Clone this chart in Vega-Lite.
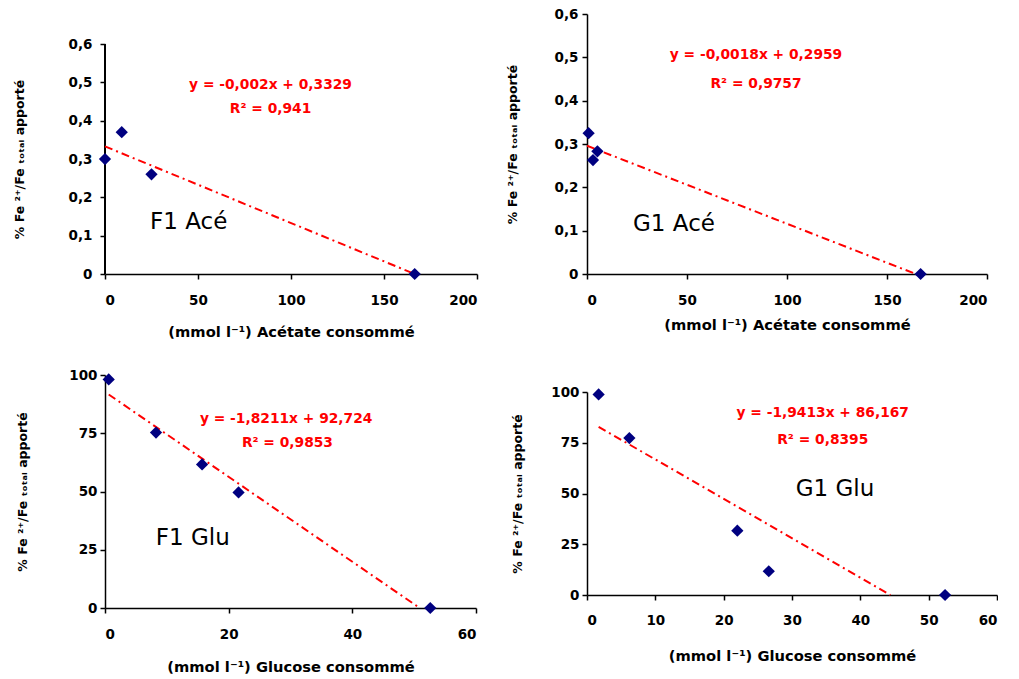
{
  "$schema": "https://vega.github.io/schema/vega-lite/v6.json",
  "padding": {"left": 13, "top": 7, "right": 0, "bottom": 0},
  "background": "white",
  "config": {
    "view": {"stroke": null},
    "font": "DejaVu Sans",
    "axis": {
      "grid": false,
      "domainColor": "black",
      "domainWidth": 1.5,
      "tickColor": "black",
      "tickWidth": 1.5,
      "tickSize": 5,
      "labelFont": "DejaVu Sans",
      "labelFontWeight": "bold",
      "labelFontSize": 13.5,
      "labelColor": "black",
      "titleFont": "DejaVu Sans",
      "titleFontWeight": "bold",
      "titleFontSize": 14.7,
      "titleColor": "black",
      "labelExpr": "replace(format(datum.value, '~g'), '.', ',')"
    }
  },
  "hconcat": [
    {
      "spacing": 28,
      "vconcat": [
        {
          "width": 372,
          "height": 260,
          "data": {"values": [
            {"kind": "pt", "x": 0, "y": 0.30},
            {"kind": "pt", "x": 9, "y": 0.37},
            {"kind": "pt", "x": 25, "y": 0.26},
            {"kind": "pt", "x": 166.5, "y": 0},
            {"kind": "fit", "x": 0, "y": 0.3329},
            {"kind": "fit", "x": 166.5, "y": 0},
            {"kind": "eq", "x": 89, "y": 0.492, "label": "y = -0,002x + 0,3329"},
            {"kind": "eq", "x": 89, "y": 0.43, "label": "R² = 0,941"},
            {"kind": "name", "x": 45, "y": 0.136, "label": "F1 Acé"}
          ]},
          "encoding": {
            "x": {"field": "x", "type": "quantitative", "scale": {"domain": [0, 200]},
              "axis": {"values": [0, 50, 100, 150, 200], "labelPadding": 14, "titlePadding": 18, "title": "(mmol l⁻¹) Acétate consommé"}},
            "y": {"field": "y", "type": "quantitative", "scale": {"domain": [0, 0.6783]},
              "axis": {"values": [0, 0.1, 0.2, 0.3, 0.4, 0.5, 0.6], "domain": false, "labelPadding": 8, "titlePadding": 42, "titleY": 145, "title": "% Fe ²⁺/Fe ₜₒₜₐₗ apporté", "titleFontSize": 12.5}}
          },
          "layer": [
            {"mark": {"type": "rule", "color": "black", "strokeWidth": 1.5},
              "encoding": {"x": {"datum": 0, "type": "quantitative"}, "y": {"datum": 0, "type": "quantitative"}, "y2": {"datum": 0.6}}},
            {"transform": [{"filter": "datum.kind == 'fit'"}], "mark": {"type": "line", "color": "#ff0000", "strokeWidth": 2, "strokeDash": [8, 4, 2, 4]}},
            {"transform": [{"filter": "datum.kind == 'pt'"}], "mark": {"type": "point", "shape": "diamond", "filled": true, "color": "#000080", "size": 150, "opacity": 1}},
            {"transform": [{"filter": "datum.kind == 'eq'"}], "mark": {"type": "text", "color": "#ff0000", "fontWeight": "bold", "fontSize": 13.8, "font": "DejaVu Sans"}, "encoding": {"text": {"field": "label"}}},
            {"transform": [{"filter": "datum.kind == 'name'"}], "mark": {"type": "text", "color": "black", "fontSize": 23, "font": "DejaVu Sans"}, "encoding": {"text": {"field": "label"}}}
          ]
        },
        {
          "width": 371,
          "height": 233,
          "data": {"values": [
            {"kind": "pt", "x": 0.6, "y": 98.1},
            {"kind": "pt", "x": 8.25, "y": 75.3},
            {"kind": "pt", "x": 15.7, "y": 61.6},
            {"kind": "pt", "x": 21.6, "y": 49.6},
            {"kind": "pt", "x": 52.6, "y": 0},
            {"kind": "fit", "x": 0.6, "y": 91.63},
            {"kind": "fit", "x": 50.9, "y": 0},
            {"kind": "eq", "x": 29.3, "y": 81.0, "label": "y = -1,8211x + 92,724"},
            {"kind": "eq", "x": 29.5, "y": 70.7, "label": "R² = 0,9853"},
            {"kind": "name", "x": 14.2, "y": 30, "label": "F1 Glu"}
          ]},
          "encoding": {
            "x": {"field": "x", "type": "quantitative", "scale": {"domain": [0, 60]},
              "axis": {"values": [0, 20, 40, 60], "labelPadding": 14, "titlePadding": 19, "title": "(mmol l⁻¹) Glucose consommé"}},
            "y": {"field": "y", "type": "quantitative", "scale": {"domain": [0, 100]},
              "axis": {"values": [0, 25, 50, 75, 100], "labelPadding": 3, "titlePadding": 39, "title": "% Fe ²⁺/Fe ₜₒₜₐₗ apporté", "titleFontSize": 12.5}}
          },
          "layer": [
            {"transform": [{"filter": "datum.kind == 'fit'"}], "mark": {"type": "line", "color": "#ff0000", "strokeWidth": 2, "strokeDash": [8, 4, 2, 4]}},
            {"transform": [{"filter": "datum.kind == 'pt'"}], "mark": {"type": "point", "shape": "diamond", "filled": true, "color": "#000080", "size": 150, "opacity": 1}},
            {"transform": [{"filter": "datum.kind == 'eq'"}], "mark": {"type": "text", "color": "#ff0000", "fontWeight": "bold", "fontSize": 13.8, "font": "DejaVu Sans"}, "encoding": {"text": {"field": "label"}}},
            {"transform": [{"filter": "datum.kind == 'name'"}], "mark": {"type": "text", "color": "black", "fontSize": 23, "font": "DejaVu Sans"}, "encoding": {"text": {"field": "label"}}}
          ]
        }
      ]
    },
    {
      "spacing": 52,
      "vconcat": [
        {
          "width": 400,
          "height": 260,
          "data": {"values": [
            {"kind": "pt", "x": 0.8, "y": 0.325},
            {"kind": "pt", "x": 3, "y": 0.263},
            {"kind": "pt", "x": 5.2, "y": 0.283},
            {"kind": "pt", "x": 166.8, "y": 0},
            {"kind": "fit", "x": 0, "y": 0.2959},
            {"kind": "fit", "x": 164.4, "y": 0},
            {"kind": "eq", "x": 84.5, "y": 0.505, "label": "y = -0,0018x + 0,2959"},
            {"kind": "eq", "x": 84.5, "y": 0.438, "label": "R² = 0,9757"},
            {"kind": "name", "x": 43.5, "y": 0.115, "label": "G1 Acé"}
          ]},
          "encoding": {
            "x": {"field": "x", "type": "quantitative", "scale": {"domain": [0, 200]},
              "axis": {"values": [0, 50, 100, 150, 200], "labelPadding": 14, "titlePadding": 11, "title": "(mmol l⁻¹) Acétate consommé"}},
            "y": {"field": "y", "type": "quantitative", "scale": {"domain": [0, 0.6]},
              "axis": {"values": [0, 0.1, 0.2, 0.3, 0.4, 0.5, 0.6], "labelPadding": 4, "titlePadding": 35, "title": "% Fe ²⁺/Fe ₜₒₜₐₗ apporté", "titleFontSize": 12.5}}
          },
          "layer": [
            {"transform": [{"filter": "datum.kind == 'fit'"}], "mark": {"type": "line", "color": "#ff0000", "strokeWidth": 2, "strokeDash": [8, 4, 2, 4]}},
            {"transform": [{"filter": "datum.kind == 'pt'"}], "mark": {"type": "point", "shape": "diamond", "filled": true, "color": "#000080", "size": 150, "opacity": 1}},
            {"transform": [{"filter": "datum.kind == 'eq'"}], "mark": {"type": "text", "color": "#ff0000", "fontWeight": "bold", "fontSize": 13.8, "font": "DejaVu Sans"}, "encoding": {"text": {"field": "label"}}},
            {"transform": [{"filter": "datum.kind == 'name'"}], "mark": {"type": "text", "color": "black", "fontSize": 23, "font": "DejaVu Sans"}, "encoding": {"text": {"field": "label"}}}
          ]
        },
        {
          "width": 410,
          "height": 203,
          "data": {"values": [
            {"kind": "pt", "x": 1.7, "y": 98.8},
            {"kind": "pt", "x": 6.2, "y": 77.3},
            {"kind": "pt", "x": 22.0, "y": 31.7},
            {"kind": "pt", "x": 26.6, "y": 11.7},
            {"kind": "pt", "x": 52.4, "y": 0},
            {"kind": "fit", "x": 1.7, "y": 82.87},
            {"kind": "fit", "x": 44.4, "y": 0},
            {"kind": "eq", "x": 34.5, "y": 89.7, "label": "y = -1,9413x + 86,167"},
            {"kind": "eq", "x": 34.5, "y": 76.4, "label": "R² = 0,8395"},
            {"kind": "name", "x": 36.3, "y": 52.2, "label": "G1 Glu"}
          ]},
          "encoding": {
            "x": {"field": "x", "type": "quantitative", "scale": {"domain": [0, 60]},
              "axis": {"values": [0, 10, 20, 30, 40, 50, 60], "labelPadding": 13, "titlePadding": 22, "title": "(mmol l⁻¹) Glucose consommé"}},
            "y": {"field": "y", "type": "quantitative", "scale": {"domain": [0, 100]},
              "axis": {"values": [0, 25, 50, 75, 100], "labelPadding": 3, "titlePadding": 26, "title": "% Fe ²⁺/Fe ₜₒₜₐₗ apporté", "titleFontSize": 12.5}}
          },
          "layer": [
            {"transform": [{"filter": "datum.kind == 'fit'"}], "mark": {"type": "line", "color": "#ff0000", "strokeWidth": 2, "strokeDash": [8, 4, 2, 4]}},
            {"transform": [{"filter": "datum.kind == 'pt'"}], "mark": {"type": "point", "shape": "diamond", "filled": true, "color": "#000080", "size": 150, "opacity": 1}},
            {"transform": [{"filter": "datum.kind == 'eq'"}], "mark": {"type": "text", "color": "#ff0000", "fontWeight": "bold", "fontSize": 13.8, "font": "DejaVu Sans"}, "encoding": {"text": {"field": "label"}}},
            {"transform": [{"filter": "datum.kind == 'name'"}], "mark": {"type": "text", "color": "black", "fontSize": 23, "font": "DejaVu Sans"}, "encoding": {"text": {"field": "label"}}}
          ]
        }
      ]
    }
  ],
  "spacing": 28
}
